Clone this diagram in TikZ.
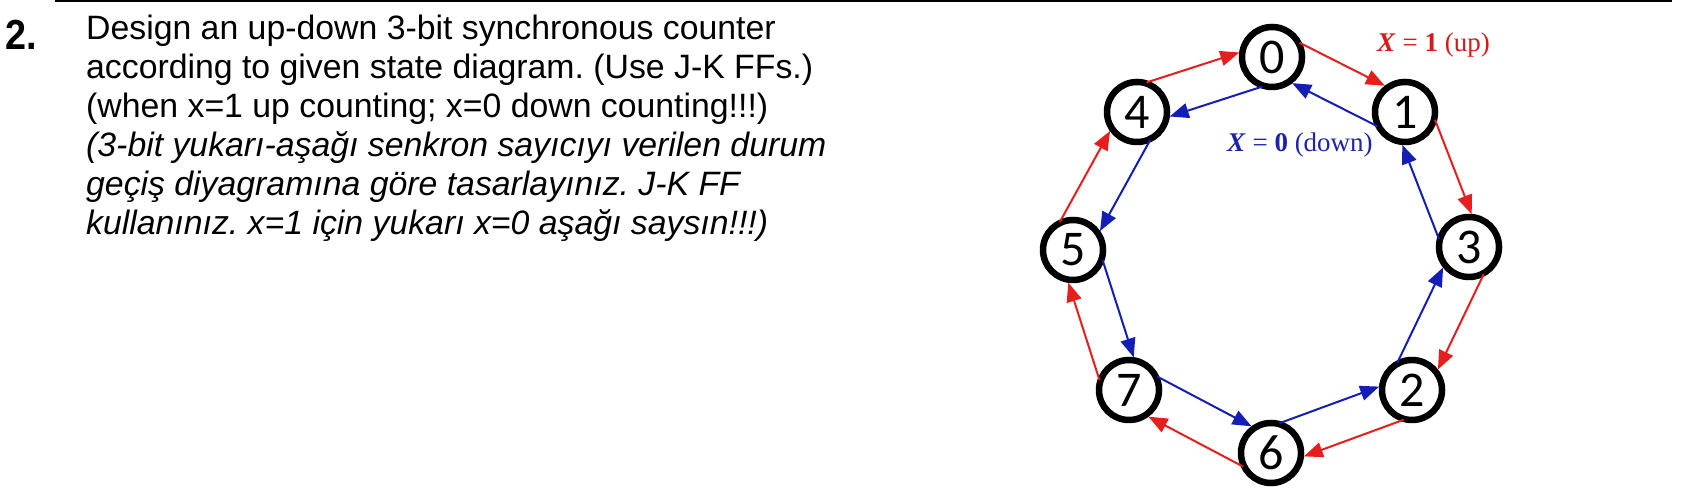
\documentclass[tikz,border=0pt]{standalone}
\usepackage{fontspec}
\setmainfont{Liberation Sans}
\newfontfamily\timesf{Liberation Serif}
\newfontfamily\calf{Carlito}
\usetikzlibrary{arrows.meta,calc}
\definecolor{upred}{RGB}{230,30,30}
\definecolor{dnblue}{RGB}{20,30,180}
\definecolor{upredtxt}{RGB}{215,25,25}
\definecolor{dnbluetxt}{RGB}{30,35,170}
\newcommand\stedge[3]{\draw[#1] ($(#2)!31pt!50:(#3)$) -- ($(#3)!33pt!-30:(#2)$);}
\frenchspacing
\begin{document}
\begin{tikzpicture}[x=1pt,y=1pt,
  state/.style={circle,draw=black,line width=6.5pt,minimum size=60pt,inner sep=0pt,
    font=\calf\fontsize{50}{50}\selectfont},
  txt/.style={anchor=base west,inner sep=0pt,font=\fontsize{33.8}{39}\selectfont},
  itxt/.style={txt,font=\fontsize{33.8}{39}\selectfont\itshape},
  lbl/.style={anchor=base west,inner sep=0pt,font=\timesf\fontsize{27}{27}\selectfont},
  uparr/.style={draw=upred,line width=2pt,-{Triangle[length=19pt,width=15pt]}},
  dnarr/.style={draw=dnblue,line width=2pt,-{Triangle[length=19pt,width=15pt]}}
]
\useasboundingbox (0,0) rectangle (1696,502);
% top rule
\coordinate (rl) at (55,501);
\coordinate (rr) at (1672,501);
\draw[line width=2pt] (rl) -- (rr);
% problem text
\node[anchor=base west,inner sep=0pt,font=\fontsize{42}{42}\selectfont\bfseries] (num) at (5,452) {\scalebox{0.9}[1]{2.}};
\node[txt] (l1) at (86,462) {Design an up-down 3-bit synchronous counter};
\node[txt] (l2) at (86,423) {according to given state diagram. (Use J-K FFs.)};
\node[txt] (l3) at (86,384) {(when x=1 up counting; x=0 down counting!!!)};
\node[itxt] (l4) at (86,345) {(3-bit yukarı-aşağı senkron sayıcıyı verilen durum};
\node[itxt] (l5) at (86,306) {geçiş diyagramına göre tasarlayınız. J-K FF};
\node[itxt] (l6) at (86,267) {kullanınız. x=1 için yukarı x=0 aşağı saysın!!!)};
% states
\node[state] (s0) at (1272,445) {0};
\node[state] (s1) at (1405,390) {1};
\node[state] (s3) at (1469,255) {3};
\node[state] (s2) at (1412,112) {2};
\node[state] (s6) at (1271,49) {6};
\node[state] (s7) at (1129,112) {7};
\node[state] (s5) at (1073,252) {5};
\node[state] (s4) at (1137,390) {4};
% X=1 (up)
\stedge{uparr}{s0}{s1}
\stedge{uparr}{s1}{s3}
\stedge{uparr}{s3}{s2}
\stedge{uparr}{s2}{s6}
\stedge{uparr}{s6}{s7}
\stedge{uparr}{s7}{s5}
\stedge{uparr}{s5}{s4}
\stedge{uparr}{s4}{s0}
% X=0 (down)
\stedge{dnarr}{s1}{s0}
\stedge{dnarr}{s3}{s1}
\stedge{dnarr}{s2}{s3}
\stedge{dnarr}{s6}{s2}
\stedge{dnarr}{s7}{s6}
\stedge{dnarr}{s5}{s7}
\stedge{dnarr}{s4}{s5}
\stedge{dnarr}{s0}{s4}
% labels
\node[lbl,text=upredtxt] (lup) at (1377,450) {\textbf{\textit{X}} = \textbf{1} (up)};
\node[lbl,text=dnbluetxt] (ldn) at (1227,350) {\textbf{\textit{X}} = \textbf{0} (down)};
\end{tikzpicture}
\end{document}
